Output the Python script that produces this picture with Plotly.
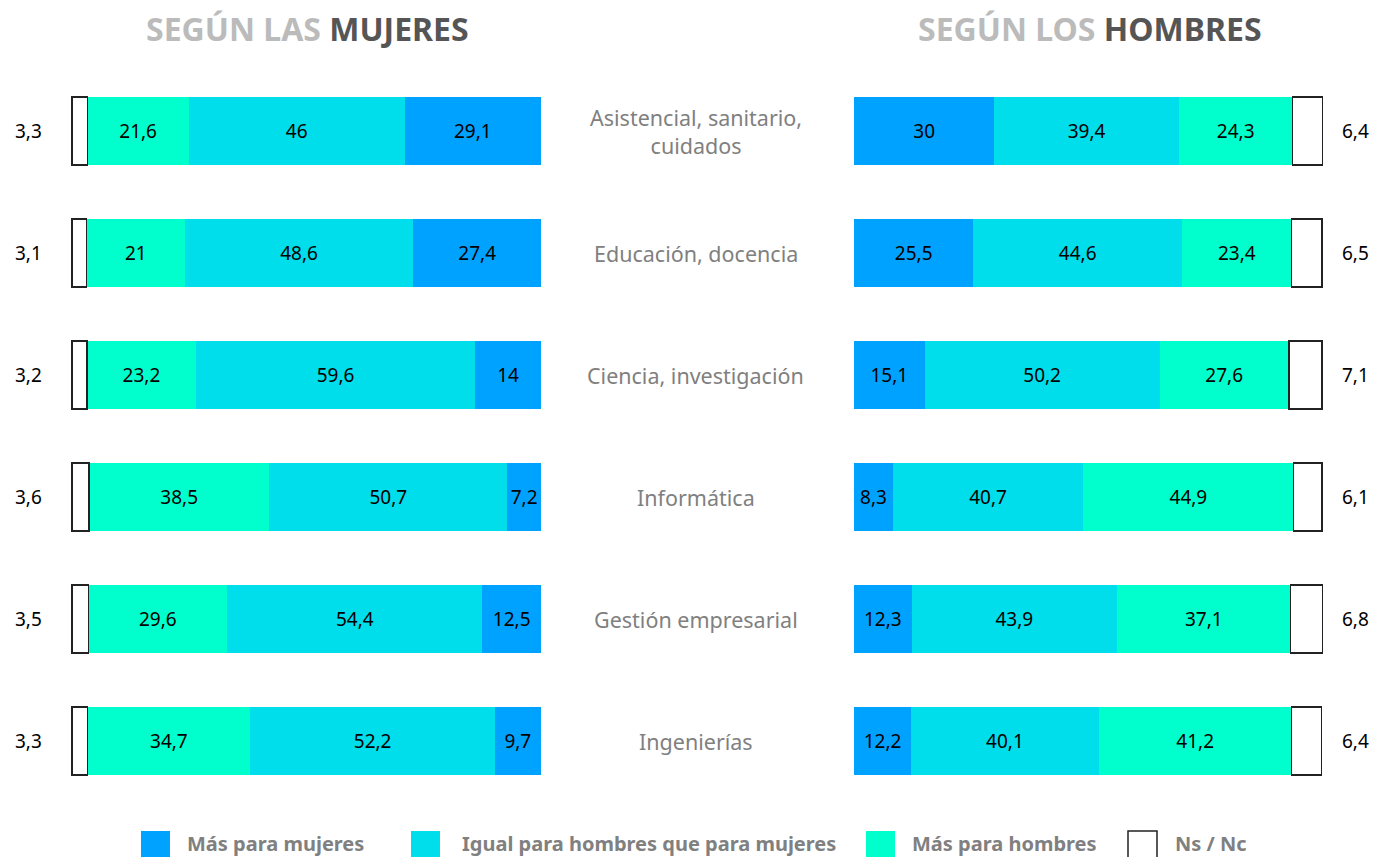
import plotly.graph_objects as go

categorias = ["Asistencial, sanitario, cuidados", "Educación, docencia", "Ciencia, investigación",
              "Informática", "Gestión empresarial", "Ingenierías"]
etiquetas = ["Asistencial, sanitario,<br>cuidados", "Educación, docencia", "Ciencia, investigación",
             "Informática", "Gestión empresarial", "Ingenierías"]

mujeres_nsnc = [3.3, 3.1, 3.2, 3.6, 3.5, 3.3]
mujeres_mas_hombres = [21.6, 21, 23.2, 38.5, 29.6, 34.7]
mujeres_igual = [46, 48.6, 59.6, 50.7, 54.4, 52.2]
mujeres_mas_mujeres = [29.1, 27.4, 14, 7.2, 12.5, 9.7]

hombres_mas_mujeres = [30, 25.5, 15.1, 8.3, 12.3, 12.2]
hombres_igual = [39.4, 44.6, 50.2, 40.7, 43.9, 40.1]
hombres_mas_hombres = [24.3, 23.4, 27.6, 44.9, 37.1, 41.2]
hombres_nsnc = [6.4, 6.5, 7.1, 6.1, 6.8, 6.4]

series_nombres = ["Más para mujeres", "Igual para hombres que para mujeres", "Más para hombres", "Ns / Nc"]

C_MUJ = "#00A2FF"
C_IGU = "#00DDEB"
C_HOM = "#00FFCC"
FONT = "Noto Sans"
GRAY = "#808080"


def fmt(v):
    return f"{v:g}".replace(".", ",")


fig = go.Figure()

def add_bar(vals, color, name, xa, ya, show_text=True):
    fig.add_trace(go.Bar(
        y=categorias, x=vals, orientation="h", name=name,
        marker=dict(color=color, line=dict(width=0)),
        text=[fmt(v) for v in vals] if show_text else None,
        textposition="inside", insidetextanchor="middle", textangle=0,
        textfont=dict(family=FONT, size=19, color="black"),
        xaxis=xa, yaxis=ya, showlegend=False, hoverinfo="x+name",
    ))

def add_ns(vals, xa, ya, base=None):
    fig.add_trace(go.Bar(
        y=categorias, x=vals, base=base, orientation="h", name=series_nombres[3],
        marker=dict(color="white", line=dict(color="#222222", width=1.5)),
        xaxis=xa, yaxis=ya, showlegend=False, hoverinfo="x+name",
    ))

# Left panel (según las mujeres): Ns/Nc | más hombres | igual | más mujeres
add_bar(mujeres_nsnc, "rgba(0,0,0,0)", series_nombres[3], "x", "y", show_text=False)
add_bar(mujeres_mas_hombres, C_HOM, series_nombres[2], "x", "y")
add_bar(mujeres_igual, C_IGU, series_nombres[1], "x", "y")
add_bar(mujeres_mas_mujeres, C_MUJ, series_nombres[0], "x", "y")
add_ns(mujeres_nsnc, "x3", "y")

# Right panel (según los hombres): más mujeres | igual | más hombres | Ns/Nc
add_bar(hombres_mas_mujeres, C_MUJ, series_nombres[0], "x2", "y2")
add_bar(hombres_igual, C_IGU, series_nombres[1], "x2", "y2")
add_bar(hombres_mas_hombres, C_HOM, series_nombres[2], "x2", "y2")
base_h = [a + b + c for a, b, c in zip(hombres_mas_mujeres, hombres_igual, hombres_mas_hombres)]
add_ns(hombres_nsnc, "x4", "y2", base=base_h)

annotations = []
for cat, lab, nm, nh in zip(categorias, etiquetas, mujeres_nsnc, hombres_nsnc):
    annotations.append(dict(xref="paper", yref="y", x=0.5043, y=cat, text=lab, showarrow=False,
                            font=dict(family=FONT, size=21.5, color=GRAY), xanchor="center", yanchor="middle"))
    annotations.append(dict(xref="paper", yref="y", x=0.0203, y=cat, text=fmt(nm), showarrow=False,
                            font=dict(family=FONT, size=19, color="black"), xanchor="center", yanchor="middle"))
    annotations.append(dict(xref="paper", yref="y", x=0.9825, y=cat, text=fmt(nh), showarrow=False,
                            font=dict(family=FONT, size=19, color="black"), xanchor="center", yanchor="middle"))

annotations.append(dict(xref="paper", yref="paper", x=0.2225, y=0.967, showarrow=False,
                        text="<b><span style='color:#BBBBBB'>SEGÚN LAS </span>MUJERES</b>",
                        font=dict(family=FONT, size=32, color="#555555"), xanchor="center", yanchor="middle"))
annotations.append(dict(xref="paper", yref="paper", x=0.790, y=0.967, showarrow=False,
                        text="<b><span style='color:#BBBBBB'>SEGÚN LOS </span>HOMBRES</b>",
                        font=dict(family=FONT, size=32, color="#555555"), xanchor="center", yanchor="middle"))

# Custom legend
leg_items = [(series_nombres[0], C_MUJ, 141, 185), (series_nombres[1], C_IGU, 411, 460),
             (series_nombres[2], C_HOM, 866, 910), (series_nombres[3], "white", 1128, 1173)]
shapes = []
W, H = 1380, 857
for name, col, sx, tx in leg_items:
    shapes.append(dict(type="rect", xref="paper", yref="paper",
                       x0=sx / W, x1=(sx + 29) / W, y0=1 - 858 / H, y1=1 - 831 / H,
                       fillcolor=col, line=dict(color="#222222" if col == "white" else col,
                                                width=1.5 if col == "white" else 0)))
    annotations.append(dict(xref="paper", yref="paper", x=tx / W, y=1 - 843 / H, text=f"<b>{name}</b>",
                            showarrow=False, xanchor="left", yanchor="middle",
                            font=dict(family=FONT, size=20, color=GRAY)))

ydom = [1 - 802 / H, 1 - 70 / H]
dom_l = [70 / W, 541 / W]
rng_l = [-0.43, 100]
dom_r = [854 / W, 1325 / W]
rng_r = [0, 100.64]
fig.update_layout(
    width=W, height=H, margin=dict(l=0, r=0, t=0, b=0),
    paper_bgcolor="white", plot_bgcolor="white",
    barmode="stack", bargap=0.443,
    uniformtext=dict(minsize=19, mode="show"),
    xaxis=dict(domain=dom_l, range=rng_l, visible=False, anchor="y"),
    xaxis3=dict(domain=dom_l, range=rng_l, visible=False, anchor="y", overlaying="x"),
    yaxis=dict(domain=ydom, categoryorder="array", categoryarray=categorias, autorange="reversed",
               visible=False, anchor="x"),
    xaxis2=dict(domain=dom_r, range=rng_r, visible=False, anchor="y2"),
    xaxis4=dict(domain=dom_r, range=rng_r, visible=False, anchor="y2", overlaying="x2"),
    yaxis2=dict(domain=ydom, categoryorder="array", categoryarray=categorias, autorange="reversed",
                visible=False, anchor="x2"),
    annotations=annotations, shapes=shapes,
    font=dict(family=FONT),
)

fig.write_html("out.html", config={"displayModeBar": False},
               post_script="document.body.style.margin='0';document.body.style.overflow='hidden';")
